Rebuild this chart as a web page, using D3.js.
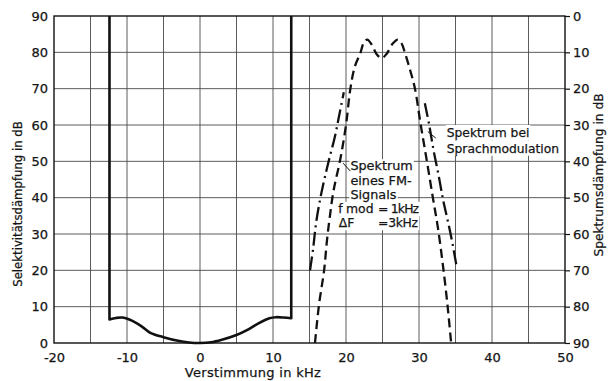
<!DOCTYPE html>
<html>
<head>
<meta charset="utf-8">
<script src="https://cdn.jsdelivr.net/npm/d3@7"></script>
<style>
  body { margin: 0; background: #fff; }
  text { font-family: "DejaVu Sans", sans-serif; fill: #151515; stroke: #151515; stroke-width: 0.25px; }
</style>
</head>
<body>
<div id="container"></div>
<script>
const xTicks = [-20, -10, 0, 10, 20, 30, 40, 50]
const leftTicks = [0, 10, 20, 30, 40, 50, 60, 70, 80, 90]
const rightTicks = [0, 10, 20, 30, 40, 50, 60, 70, 80, 90]

// selectivity (left axis), bottom of the passband; walls go up to 90 dB
const selectivity = [[-12.4, 6.5], [-11.5, 6.9], [-10.6, 7.0], [-9.6, 6.4], [-8, 4.6], [-6.8, 2.8], [-5, 1.6],
  [-3, 0.6], [-1.5, 0.15], [0, 0], [1.5, 0.2], [3, 0.9], [5, 2.2], [6.5, 3.6], [8, 5.4], [9.5, 6.8],
  [10.4, 7.1], [11.5, 7.0], [12.5, 6.8]]
const wallTop = 90

// spectrum of FM signal, fmod = 1 kHz (right axis, dB below carrier)
const fmSpectrum = [[15.75, 90], [16.3, 79.5], [17.0, 70], [17.4, 61.6], [17.8, 55], [18.3, 48], [19.2, 39.6],
  [20.0, 30], [20.6, 20], [21.2, 14], [22.0, 10], [22.4, 7.5], [22.9, 6.5], [23.5, 7.8], [24.2, 10.5],
  [24.9, 11.6], [25.6, 10.3], [26.4, 7.6], [27.1, 6.5], [27.6, 7.5], [28.1, 10.3], [28.8, 15], [29.45, 20],
  [30.2, 29.5], [31.05, 39.6], [31.9, 50], [32.6, 58.4], [33.3, 69], [33.9, 79.5], [34.4, 90]]

// spectrum with speech modulation (right axis), two visible flanks
const speechLeft = [[15.07, 70], [15.5, 64], [15.9, 57], [16.6, 49], [17.5, 41], [18.5, 33], [19.1, 27], [19.7, 21]]
const speechRight = [[30.8, 24], [31.4, 30], [32.0, 37], [32.7, 44], [33.3, 50.6], [33.9, 56], [34.5, 61.7], [35.2, 69.5]]

const w = 609
const h = 381
const m = { left: 54, right: 44, top: 16, bottom: 38 }

const svg = d3.select('#container').append('svg')
  .attr('width', w)
  .attr('height', h)

const x = d3.scaleLinear([-20, 50], [m.left, w - m.right])
const yL = d3.scaleLinear([0, 90], [h - m.bottom, m.top])
const yR = d3.scaleLinear([0, 90], [m.top, h - m.bottom])

// grid
const grid = svg.append('g').attr('stroke', '#4a4a4a').attr('stroke-width', 0.9)
grid.selectAll('.vg')
  .data(d3.range(-15, 50, 5))
  .enter().append('line')
  .attr('x1', d => x(d)).attr('x2', d => x(d))
  .attr('y1', yL(0)).attr('y2', yL(90))
grid.selectAll('.hg')
  .data(leftTicks.slice(1, -1))
  .enter().append('line')
  .attr('x1', x(-20)).attr('x2', x(50))
  .attr('y1', d => yL(d)).attr('y2', d => yL(d))

svg.append('rect')
  .attr('x', x(-20)).attr('y', yL(90))
  .attr('width', x(50) - x(-20)).attr('height', yL(0) - yL(90))
  .attr('fill', 'none').attr('stroke', '#111').attr('stroke-width', 1.4)

// axes
const fmt = d => String(d)
const axisX = d3.axisBottom(x).tickValues(xTicks).tickFormat(fmt).tickSize(0).tickPadding(9.5)
const axisL = d3.axisLeft(yL).tickValues(leftTicks).tickFormat(fmt).tickSize(0).tickPadding(6)
const axisR = d3.axisRight(yR).tickValues(rightTicks).tickFormat(fmt).tickSize(5).tickPadding(3)

svg.append('g').attr('transform', `translate(0,${yL(0)})`).call(axisX)
svg.append('g').attr('transform', `translate(${x(-20)},0)`).call(axisL)
svg.append('g').attr('transform', `translate(${x(50)},0)`).call(axisR)

svg.selectAll('.domain').remove()
svg.selectAll('.tick line').attr('stroke', '#111').attr('stroke-width', 1.2)
svg.selectAll('.tick text')
  .style('font-family', '"DejaVu Sans", sans-serif')
  .style('font-size', '13px')
  .attr('fill', '#151515')

svg.append('text')
  .text('Verstimmung in kHz')
  .attr('x', 253).attr('y', 377)
  .attr('text-anchor', 'middle')
  .style('font-size', '13px')
  .style('letter-spacing', '0.3px')

svg.append('text')
  .text('Selektivitätsdämpfung in dB')
  .attr('transform', `translate(22,${204}) rotate(-90)`)
  .attr('text-anchor', 'middle')
  .style('font-size', '11.7px')

svg.append('text')
  .text('Spektrumsdämpfung in dB')
  .attr('transform', `translate(603,${175}) rotate(-90)`)
  .attr('text-anchor', 'middle')
  .style('font-size', '12.2px')

// curves
const lineL = d3.line().x(d => x(d[0])).y(d => yL(d[1]))
const lineR = d3.line().x(d => x(d[0])).y(d => yR(d[1])).curve(d3.curveCatmullRom)

const first = selectivity[0]
const last = selectivity[selectivity.length - 1]
svg.append('path')
  .attr('d', lineL.curve(d3.curveLinear)([[first[0], wallTop], first]) +
    lineL.curve(d3.curveCatmullRom)(selectivity).replace(/^M/, 'L') +
    'L' + x(last[0]) + ',' + yL(wallTop))
  .attr('fill', 'none').attr('stroke', '#111').attr('stroke-width', 2.6)
  .attr('stroke-linejoin', 'round')

svg.append('path')
  .attr('d', lineR(fmSpectrum))
  .attr('fill', 'none').attr('stroke', '#111').attr('stroke-width', 2.3)
  .attr('stroke-dasharray', '9 5')

;[speechLeft, speechRight].forEach(s => {
  svg.append('path')
    .attr('d', lineR(s))
    .attr('fill', 'none').attr('stroke', '#111').attr('stroke-width', 2.3)
    .attr('stroke-dasharray', '14 4.5 2 4.5')
})

// annotations: each line is a list of [text, x in kHz, font size, width]
function label(lines, y0, lh) {
  const g = svg.append('g')
  lines.forEach((parts, i) => {
    parts.forEach(([s, kx, fs, tl]) => {
      const txt = g.append('text')
        .text(s)
        .attr('x', x(kx))
        .attr('y', y0 + i * lh)
        .style('font-size', fs + 'px')
      if (tl) txt.attr('textLength', tl).attr('lengthAdjust', 'spacing')
      const b = txt.node().getBBox()
      g.insert('rect', 'text')
        .attr('x', b.x - 1).attr('y', y0 + i * lh - lh + 3)
        .attr('width', b.width + 2).attr('height', lh)
        .attr('fill', '#fff')
    })
  })
}

label([[['Spektrum', 20.6, 12.8]], [['eines FM-', 20.6, 12.8]], [['Signals', 20.6, 12.8]],
  [['f', 18.95, 12.4], ['mod', 20.0, 12.4], ['= 1kHz', 24.4, 12.4, 41]],
  [['ΔF', 19.0, 12.4], ['=3kHz', 24.4, 12.4, 40]]], yR(42.5), 14.2)
label([[['Spektrum bei', 33.8, 12.3]], [['Sprachmodulation', 33.8, 12.3]]], yR(33.4), 15.4)

svg.append('line')
  .attr('x1', x(19.6)).attr('y1', yR(40.5))
  .attr('x2', x(20.6)).attr('y2', yR(42.7))
  .attr('stroke', '#111').attr('stroke-width', 1)
svg.append('line')
  .attr('x1', x(31.2)).attr('y1', yR(31.8))
  .attr('x2', x(32.3)).attr('y2', yR(33.6))
  .attr('stroke', '#111').attr('stroke-width', 1)
</script>
</body>
</html>
